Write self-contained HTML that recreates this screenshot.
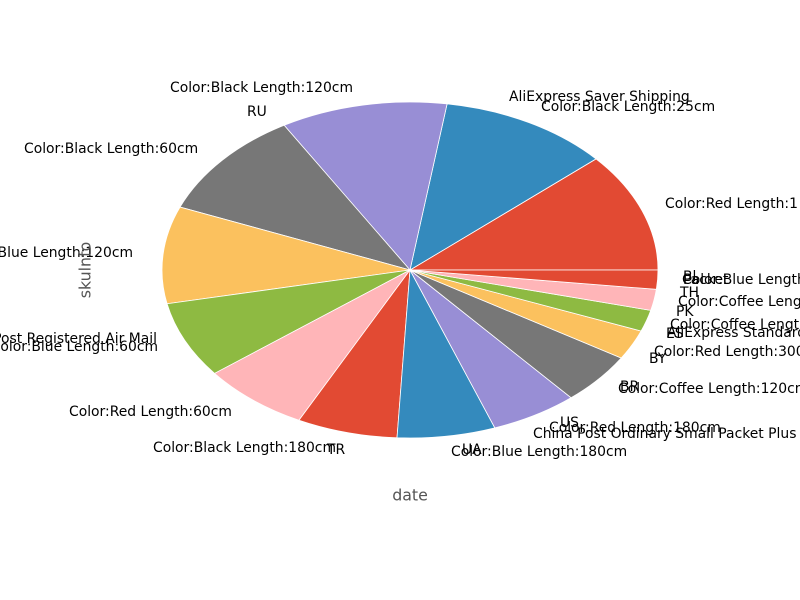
<!DOCTYPE html>
<html><head><meta charset="utf-8"><style>
html,body{margin:0;padding:0;background:#fff;}
svg{display:block;font-family:"DejaVu Sans","Liberation Sans",sans-serif;}
</style></head><body>
<svg id="chart" width="800" height="600" viewBox="0 0 800 600">
<g id="wedges"></g>
<g id="labels" font-size="13.9" fill="#000"></g>
<text x="410" y="495" font-size="15.8" fill="#555" text-anchor="middle" dominant-baseline="central">date</text>
<text x="85" y="270" font-size="15.8" fill="#555" text-anchor="middle" dominant-baseline="central" transform="rotate(-90 85 270)">skulnfo</text>
</svg>
<script>
const categories = ["Color:Red Length:1","Color:Black Length:25cm","RU","Color:Black Length:60cm","Color:Blue Length:120cm","Color:Blue Length:60cm","Color:Red Length:60cm","TR","UA","US","BR","BY","ES","PK","TH"];
const values = [41.4,40,39.1,37.5,33.6,26.4,25.4,23.6,23,20.5,17.9,10.3,7.4,7.3,6.6];
const colors = ["#E24A33","#348ABD","#988ED5","#777777","#FBC15E","#8EBA42","#FFB5B8"];
const labelTexts = [
 ["Color:Red Length:1",665,204,"start"],
 ["AliExpress  Saver  Shipping",509,97,"start"],
 ["Color:Black Length:25cm",541,107,"start"],
 ["Color:Black Length:120cm",170,88,"start"],
 ["RU",247,112,"start"],
 ["Color:Black Length:60cm",24,149,"start"],
 ["Color:Blue Length:120cm",133,253,"end"],
 ["China Post Registered Air Mail",157,339,"end"],
 ["Color:Blue Length:60cm",158,347,"end"],
 ["Color:Red Length:60cm",69,412,"start"],
 ["Color:Black Length:180cm",153,448,"start"],
 ["TR",327,450,"start"],
 ["UA",462,450,"start"],
 ["Color:Blue Length:180cm",451,452,"start"],
 ["US",560,423,"start"],
 ["Color:Red Length:180cm",549,428,"start"],
 ["China Post Ordinary Small Packet Plus",533,434,"start"],
 ["BR",620,387,"start"],
 ["Color:Coffee Length:120cm",618,389,"start"],
 ["BY",649,359,"start"],
 ["Color:Red Length:300cm",654,352,"start"],
 ["ES",666,334,"start"],
 ["AliExpress Standard Shipping",667,333,"start"],
 ["Color:Coffee Length:60cm",670,325,"start"],
 ["PK",676,312,"start"],
 ["Color:Coffee Length:25cm",678,302,"start"],
 ["TH",680,293,"start"],
 ["Color:Blue Length:25cm",682,280,"start"],
 ["Packet",683,280,"start"],
 ["Bl",683,277,"start"]
];
const NS="http://www.w3.org/2000/svg";
const cx=410, cy=270, rx=248, ry=168;
const total=values.reduce((a,b)=>a+b,0);
function pt(a){return [cx+rx*Math.cos(a), cy-ry*Math.sin(a)];}
let ang=0;
const wg=document.getElementById('wedges');
values.forEach((v,i)=>{
  const a0=ang, a1=ang+v/total*2*Math.PI; ang=a1;
  const p0=pt(a0), p1=pt(a1);
  const large=(a1-a0)>Math.PI?1:0;
  const p=document.createElementNS(NS,'path');
  p.setAttribute('d',`M${cx},${cy} L${p0[0]},${p0[1]} A${rx},${ry} 0 ${large} 0 ${p1[0]},${p1[1]} Z`);
  p.setAttribute('fill',colors[i%colors.length]);
  p.setAttribute('stroke','#fff');
  p.setAttribute('stroke-width','0.8');
  
  
  wg.appendChild(p);
});
const lg=document.getElementById('labels');
labelTexts.forEach(l=>{
  const t=document.createElementNS(NS,'text');
  t.setAttribute('x',l[1]); t.setAttribute('y',l[2]);
  t.setAttribute('text-anchor',l[3]);
  t.setAttribute('dominant-baseline','central');
  t.textContent=l[0];
  
  
  lg.appendChild(t);
});
</script>
</body></html>
